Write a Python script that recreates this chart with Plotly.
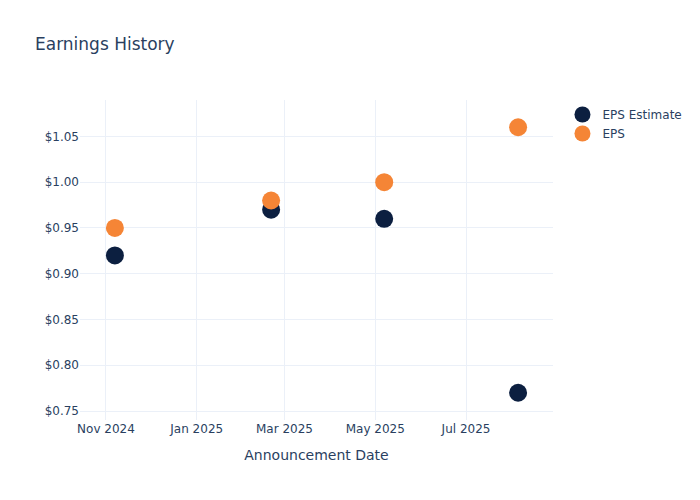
import plotly.graph_objects as go

dates = ["2024-11-07", "2025-02-20", "2025-05-07", "2025-08-05"]
eps_estimate = [0.92, 0.97, 0.96, 0.77]
eps_actual = [0.95, 0.98, 1.00, 1.06]

fig = go.Figure()
fig.add_trace(go.Scatter(x=dates, y=eps_estimate, mode="markers", name="EPS Estimate",
                         marker=dict(size=18, color="#0c1f40")))
fig.add_trace(go.Scatter(x=dates, y=eps_actual, mode="markers", name="EPS",
                         marker=dict(size=18, color="#f58536")))
fig.update_layout(
    template="plotly_white",
    width=700, height=500,
    font=dict(family="DejaVu Sans"),
    margin=dict(l=72, r=155, t=92, b=88),
    title=dict(text="Earnings History", x=27/700, xanchor="left", y=1 - 36/500, yanchor="middle"),
    xaxis=dict(title=dict(text="Announcement Date"), dtick="M2", tickformat="%b %Y"),
    yaxis=dict(tickprefix="$", tickformat=".2f"),
)
fig.write_html("out.html")
